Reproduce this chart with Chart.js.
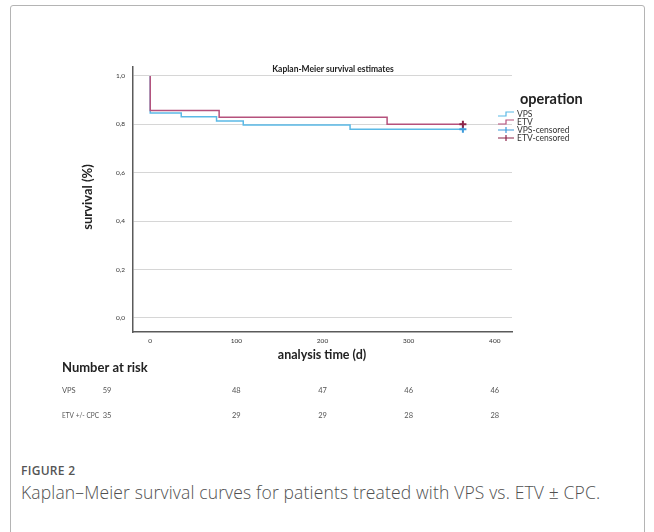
<!DOCTYPE html>
<html>
<head>
<meta charset="utf-8">
<script src="https://cdn.jsdelivr.net/npm/chart.js@4"></script>
<style>
  html, body { margin: 0; padding: 0; background: #fff; }
  body { width: 654px; height: 532px; position: relative; overflow: hidden; }
  #frame { position: absolute; left: 10px; top: 5px; width: 633px; height: 600px;
           border: 1px solid #b4b4b4; border-radius: 3px; }
  #wrap { position: absolute; left: 0; top: 0; width: 654px; height: 440px; }
  .fig { position: absolute; left: 21px; font-family: "Open Sans", sans-serif; color: #555; white-space: nowrap; }
  #figno { top: 462px; font-size: 12px; font-weight: 600; letter-spacing: 0.3px; }
  #figcap { top: 480px; font-size: 17.5px; font-weight: 300; letter-spacing: 0.15px; color: #505050; }
</style>
</head>
<body>
<div id="frame"></div>
<div id="wrap"><canvas id="km" width="654" height="440"></canvas></div>
<div class="fig" id="figno">FIGURE 2</div>
<div class="fig" id="figcap">Kaplan–Meier survival curves for patients treated with VPS vs. ETV ± CPC.</div>

<script>
// --- datos ---
const vpsTimes = [0, 0, 36, 77, 108, 232, 363];
const vpsSurv  = [1.0, 0.847, 0.831, 0.814, 0.797, 0.780, 0.780];
const etvTimes = [0, 0, 80, 275, 363];
const etvSurv  = [1.0, 0.857, 0.829, 0.800, 0.800];
const vpsCensTimes = [363];
const vpsCensSurv  = [0.780];
const etvCensTimes = [363];
const etvCensSurv  = [0.800];

const xTicks = [0, 100, 200, 300, 400];
const yTicks = [0, 0.2, 0.4, 0.6, 0.8, 1.0];
const yTickLabels = ['0,0', '0,2', '0,4', '0,6', '0,8', '1,0'];

const riskTimes = [0, 100, 200, 300, 400];
const riskGroups = ['VPS', 'ETV +/- CPC'];
const riskVps = [59, 48, 47, 46, 46];
const riskEtv = [35, 29, 29, 28, 28];

const legendLabels = ['VPS', 'ETV', 'VPS-censored', 'ETV-censored'];

const C_VPS = '#5bb9e6';
const C_ETV = '#b5517c';
const C_VPS_C = '#3d9bdb';
const C_ETV_C = '#8c2449';
const FONT = 'Lato, "Open Sans", sans-serif';

const pts = (xs, ys) => xs.map((x, i) => ({ x: x, y: ys[i] }));

const Y_W = 40, X_H = 14;

// titulos, leyenda y tabla de riesgo dibujados sobre el canvas
const extras = {
  id: 'extras',
  afterDraw(chart) {
    const ctx = chart.ctx;
    const xs = chart.scales.x;
    ctx.save();
    ctx.fillStyle = '#222';
    ctx.textBaseline = 'middle';

    ctx.textAlign = 'center';
    ctx.font = 'bold 8.5px ' + FONT;
    ctx.fillText('Kaplan-Meier survival estimates', 333, 69);
    ctx.font = 'bold 12.5px ' + FONT;
    ctx.fillText('analysis time (d)', 322, 355);

    ctx.save();
    ctx.translate(88, 197);
    ctx.rotate(-Math.PI / 2);
    ctx.font = 'bold 13px ' + FONT;
    ctx.fillText('survival (%)', 0, 0);
    ctx.restore();

    // leyenda
    ctx.textAlign = 'left';
    ctx.font = 'bold 14.5px ' + FONT;
    ctx.fillText('operation', 520, 99);
    ctx.font = '8.5px ' + FONT;
    const cols = [C_VPS, C_ETV, C_VPS_C, C_ETV_C];
    legendLabels.forEach((lab, i) => {
      const y = 114 + i * 8;
      ctx.strokeStyle = cols[i];
      ctx.lineWidth = 1.2;
      ctx.beginPath();
      if (i < 2) {
        ctx.moveTo(498, y + 2); ctx.lineTo(506, y + 2);
        ctx.lineTo(506, y - 2); ctx.lineTo(514, y - 2);
      } else {
        ctx.moveTo(498, y); ctx.lineTo(514, y);
        ctx.moveTo(506, y - 3); ctx.lineTo(506, y + 3);
      }
      ctx.stroke();
      ctx.fillStyle = '#333';
      ctx.fillText(lab, 517, y);
    });

    // numero en riesgo
    ctx.fillStyle = '#222';
    ctx.font = 'bold 13px ' + FONT;
    ctx.fillText('Number at risk', 62, 368);
    ctx.font = '7.5px ' + FONT;
    ctx.fillStyle = '#555';
    [riskVps, riskEtv].forEach((row, r) => {
      const y = 391 + r * 25;
      ctx.textAlign = 'left';
      ctx.fillText(riskGroups[r], 62, y, 37);
      ctx.textAlign = 'center';
      row.forEach((n, i) => {
        // la primera columna va pegada a la etiqueta, el resto bajo su tick
        const px = i === 0 ? 107 : xs.getPixelForValue(riskTimes[i]);
        ctx.fillText(String(n), px, y);
      });
    });
    ctx.restore();
  }
};

new Chart(document.getElementById('km'), {
  type: 'line',
  data: {
    datasets: [
      { label: 'VPS', data: pts(vpsTimes, vpsSurv), stepped: 'before',
        borderColor: C_VPS, borderWidth: 1.5, pointRadius: 0, order: 3 },
      { label: 'ETV', data: pts(etvTimes, etvSurv), stepped: 'before',
        borderColor: C_ETV, borderWidth: 1.5, pointRadius: 0, order: 2 },
      { label: 'VPS-censored', data: pts(vpsCensTimes, vpsCensSurv), showLine: false,
        pointStyle: 'cross', pointRadius: 3.5, borderColor: C_VPS_C, borderWidth: 2, order: 1 },
      { label: 'ETV-censored', data: pts(etvCensTimes, etvCensSurv), showLine: false,
        pointStyle: 'cross', pointRadius: 3.5, borderColor: C_ETV_C, borderWidth: 2, order: 0 }
    ]
  },
  options: {
    responsive: false,
    animation: false,
    events: [],
    layout: { padding: { left: 133 - Y_W, top: 67, right: 654 - 512, bottom: 440 - 332 - X_H } },
    plugins: { legend: { display: false }, tooltip: { enabled: false } },
    scales: {
      x: {
        type: 'linear', min: -20, max: 420,
        afterBuildTicks: s => { s.ticks = xTicks.map(v => ({ value: v })); },
        afterFit: s => { s.height = X_H; },
        grid: { display: false, drawTicks: false },
        border: { display: true, color: '#5a5a5a', width: 1.5 },
        ticks: { font: { family: FONT, size: 6.5 }, color: '#333', padding: 5, maxRotation: 0,
                 callback: v => String(v) }
      },
      y: {
        type: 'linear', min: -0.058, max: 1.037,
        afterBuildTicks: s => { s.ticks = yTicks.map(v => ({ value: v })); },
        afterFit: s => { s.width = Y_W; },
        grid: { color: '#d6d6d6', lineWidth: 1, drawTicks: false },
        border: { display: true, color: '#5a5a5a', width: 1.5 },
        ticks: { font: { family: FONT, size: 6.5 }, color: '#333', padding: 8,
                 callback: (v, i) => yTickLabels[i] }
      }
    }
  },
  plugins: [extras]
});
</script>
</body>
</html>
